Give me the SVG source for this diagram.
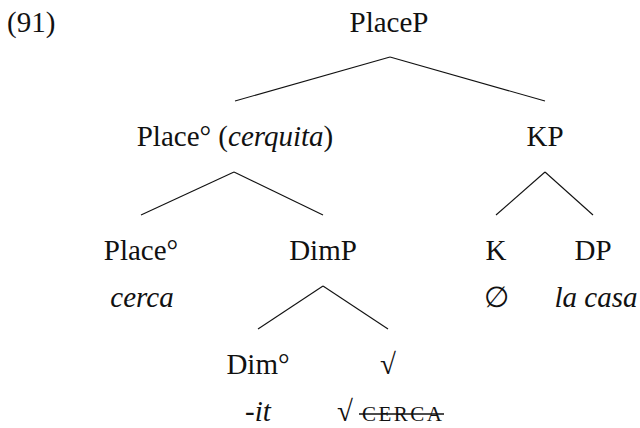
<svg xmlns="http://www.w3.org/2000/svg" width="640" height="428" viewBox="0 0 640 428">
<rect width="640" height="428" fill="#fff"/>
<g id="label"><text font-family="Liberation Serif, serif" font-size="29" fill="#111" x="7" y="32">(91)</text></g>
<g id="placeP"><text font-family="Liberation Serif, serif" font-size="29" fill="#111" text-anchor="middle" x="389" y="32">PlaceP</text></g>
<g id="placeBar"><text font-family="Liberation Serif, serif" font-size="29" fill="#111" text-anchor="middle" x="235" y="146">Place° (<tspan font-style="italic">cerquita</tspan>)</text></g>
<g id="kp"><text font-family="Liberation Serif, serif" font-size="29" fill="#111" text-anchor="middle" x="545" y="146">KP</text></g>
<g id="place0"><text font-family="Liberation Serif, serif" font-size="29" fill="#111" text-anchor="middle" x="141" y="260">Place°</text><text font-family="Liberation Serif, serif" font-size="29" fill="#111" text-anchor="middle" font-style="italic" x="142" y="307">cerca</text></g>
<g id="dimP"><text font-family="Liberation Serif, serif" font-size="29" fill="#111" text-anchor="middle" x="323" y="260">DimP</text></g>
<g id="k"><text font-family="Liberation Serif, serif" font-size="29" fill="#111" text-anchor="middle" x="496" y="260">K</text><text font-family="Liberation Serif, serif" font-size="29" fill="#111" text-anchor="middle" x="496" y="307">∅</text></g>
<g id="dp"><text font-family="Liberation Serif, serif" font-size="29" fill="#111" text-anchor="middle" x="593" y="260">DP</text><text font-family="Liberation Serif, serif" font-size="29" fill="#111" text-anchor="middle" font-style="italic" x="596" y="307">la casa</text></g>
<g id="dim0"><text font-family="Liberation Serif, serif" font-size="29" fill="#111" text-anchor="middle" x="258" y="374">Dim°</text><text font-family="Liberation Serif, serif" font-size="29" fill="#111" text-anchor="middle" x="258" y="421">-<tspan font-style="italic">it</tspan></text></g>
<g id="root"><text font-family="Liberation Serif, serif" font-size="29" fill="#111" text-anchor="middle" x="388" y="374">√</text><text font-family="Liberation Serif, serif" font-size="29" fill="#111" text-anchor="middle" x="345" y="421">√</text><text font-family="Liberation Serif, serif" font-size="21" fill="#111" x="362" y="421" textLength="80" lengthAdjust="spacing">CERCA</text><line x1="359" y1="414" x2="444" y2="414" stroke="#111" stroke-width="1.3"/></g>
<g id="edges" stroke="#111" stroke-width="1.1" fill="none">
<line x1="390" y1="57" x2="235" y2="101"/>
<line x1="390" y1="57" x2="545" y2="101"/>
<line x1="234" y1="172" x2="141" y2="215"/>
<line x1="234" y1="172" x2="323" y2="215"/>
<line x1="545" y1="172" x2="496" y2="215"/>
<line x1="545" y1="172" x2="593" y2="215"/>
<line x1="323" y1="286" x2="258" y2="329"/>
<line x1="323" y1="286" x2="388" y2="329"/>
</g>
</svg>
